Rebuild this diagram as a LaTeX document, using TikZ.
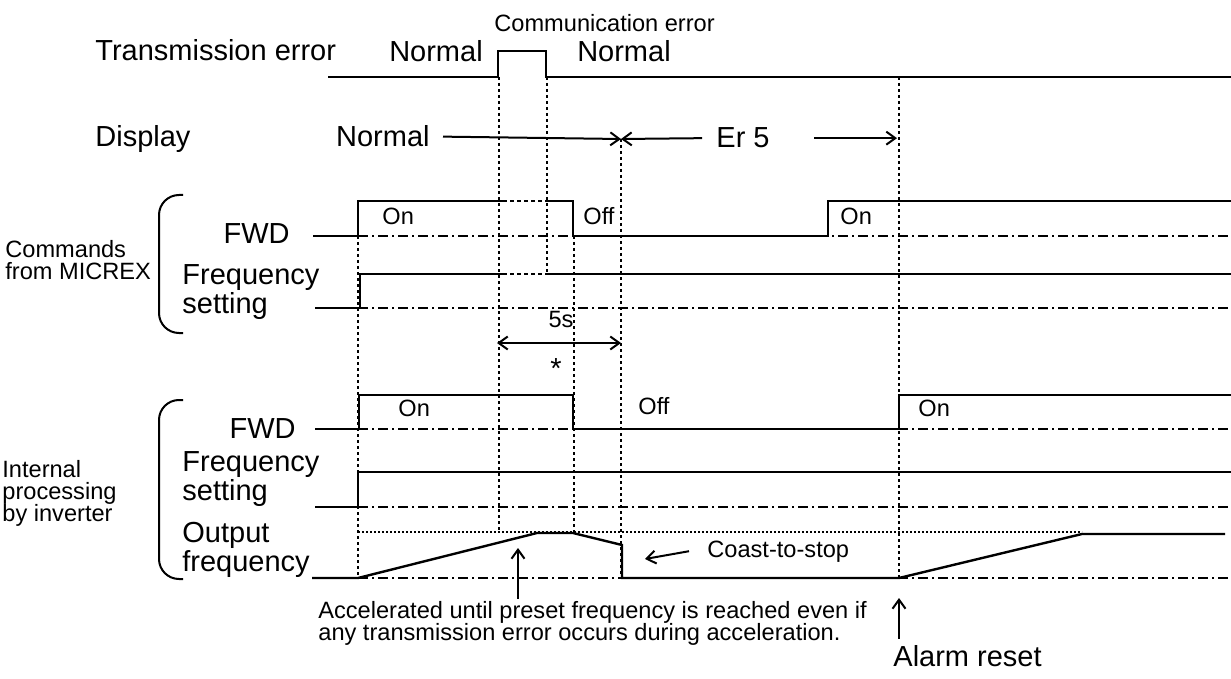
\documentclass[tikz,border=0pt]{standalone}
\usepackage{fontspec}
\setmainfont{Liberation Sans}
\usetikzlibrary{arrows.meta}
\newcommand{\tdbig}{\fontsize{14.5}{13.5}\selectfont}
\newcommand{\tdsmall}{\fontsize{11.8}{11}\selectfont}
\tikzset{
    wave/.style={line width=1.2pt, line join=miter},
    refline/.style={line width=0.6pt, dash pattern=on 5pt off 2pt on 1pt off 2pt},
    marker/.style={line width=0.9pt, dash pattern=on 1.5pt off 1.5pt},
    gapline/.style={line width=0.6pt, dash pattern=on 2pt off 1.5pt},
    lvl/.style={line width=0.7pt, dash pattern=on 0.8pt off 1.2pt},
    sig/.style={font=\tdbig, inner sep=0pt},
    lbl/.style={font=\tdsmall, inner sep=0pt},
    arr/.style={line width=1pt, -{Straight Barb[length=4.5pt, width=6.5pt]}},
    darr/.style={line width=1pt, {Straight Barb[length=4.5pt, width=6.5pt]}-{Straight Barb[length=4.5pt, width=6.5pt]}},
    brk/.style={line width=1pt, rounded corners=10pt},
}
\begin{document}
\begin{tikzpicture}[x=0.5pt, y=-0.5pt]
    \useasboundingbox (0,0) rectangle (1231,679);

    % Transmission error
    \node[sig, anchor=base west] (txerr) at (95,61) {Transmission error};
    \node[lbl, anchor=base west] (comerr) at (494,32) {Communication error};
    \node[sig, anchor=base] (nrm1) at (436,62) {Normal};
    \node[sig, anchor=base] (nrm2) at (624,62) {Normal};
    \draw[wave] (328,77) -- (498,77) |- (546,51) |- (1231,77);

    % Display
    \node[sig, anchor=base west] (disp) at (95,147) {Display};
    \node[sig, anchor=base east] (dnrm) at (430,147) {Normal};
    \node[sig, anchor=base] (er5) at (743,148) {Er 5};
    \coordinate (errstart) at (621,139);
    \coordinate (dispend) at (897,136);
    \draw[arr] ([xshift=6.5pt]dnrm.east) -- (errstart);
    \draw[arr] ([xshift=-7pt]er5.west) -- (errstart);
    \draw[arr] ([xshift=22pt]er5.east) -- (er5.east -| dispend);

    % Time markers
    \foreach \x/\a/\b in {358/236/578, 499/77/532, 547/77/274, 574/236/533, 621/139/578, 899/77/578} {
        \draw[marker] (\x,\a) -- (\x,\b);
    }
    % Zero levels
    \foreach \y in {236,308,429,507,578} {
        \draw[refline] (358,\y) -- (1231,\y);
    }

    % Commands from MICREX
    \node[lbl, align=left, anchor=west] (cmd) at (5,260) {Commands\\from MICREX};
    \draw[brk] (183,195) -- (159,195) -- (159,333) -- (183,333);
    \node[sig, anchor=base east] (cfwd) at (290,243) {FWD};
    \node[sig, align=left, anchor=west] (cfreq) at (182,292) {Frequency\\setting};
    \draw[wave] (313,236) -- (358,236) |- (503,201);
    \draw[gapline] (503,201) -- (547,201);
    \draw[wave] (547,201) -| (573,236) -| (828,201) -- (1231,201);
    \node[lbl, anchor=base west] (on1) at (382,225) {On};
    \node[lbl, anchor=base west] (off1) at (583,225) {Off};
    \node[lbl, anchor=base west] (on2) at (840,225) {On};
    \draw[wave] (315,308) -- (360,308) |- (503,274);
    \draw[gapline] (503,274) -- (547,274);
    \draw[wave] (547,274) -- (1231,274);

    % 5 s
    \coordinate (t5a) at (497,343);
    \coordinate (t5b) at (621,343);
    \draw[darr] (t5a) -- (t5b);
    \node[lbl, anchor=base] (fivesec) at (561,328) {5s};
    \node[sig, anchor=base] (star) at (556,378) {*};

    % Internal processing by inverter
    \node[lbl, align=left, anchor=west] (intl) at (2,493) {Internal\\processing\\by inverter};
    \draw[brk] (183,400) -- (159,400) -- (159,579) -- (183,579);
    \node[sig, anchor=base east] (ifwd) at (296,438) {FWD};
    \node[sig, align=left, anchor=west] (ifreq) at (182,479) {Frequency\\setting};
    \node[sig, align=left, anchor=west] (iout) at (182,550) {Output\\frequency};
    \draw[wave] (315,429) -- (359,429) |- (573,395) |- (899,429) |- (1231,395);
    \node[lbl, anchor=base west] (on3) at (398,416) {On};
    \node[lbl, anchor=base west] (off2) at (638,414) {Off};
    \node[lbl, anchor=base west] (on4) at (918,416) {On};
    \draw[wave] (315,507) -- (358,507) |- (1231,472);
    \draw[lvl] (358,532) -- (1082,532);
    \draw[wave] (312,578) -- (358,578) -- (537,533) -- (573,533) -- (622,545)
        -- (622,578) -- (899,578) -- (1082,534) -- (1225,534);

    % Notes
    \node[lbl, anchor=base west] (coast) at (707,557) {Coast-to-stop};
    \coordinate (coasttip) at (645,559);
    \draw[arr] ([xshift=-9pt]coast.west) -- (coasttip);
    \node[lbl, align=left, anchor=west] (accel) at (318,623)
        {Accelerated until preset frequency is reached even if\\any transmission error occurs during acceleration.};
    \coordinate (acctip) at (518,548);
    \draw[arr] ([yshift=1pt]accel.north -| acctip) -- (acctip);
    \node[sig, anchor=base west] (alarm) at (893,666) {Alarm reset};
    \coordinate (alarmtip) at (899,598);
    \draw[arr] ([yshift=3pt]alarm.north -| alarmtip) -- (alarmtip);
\end{tikzpicture}
\end{document}
